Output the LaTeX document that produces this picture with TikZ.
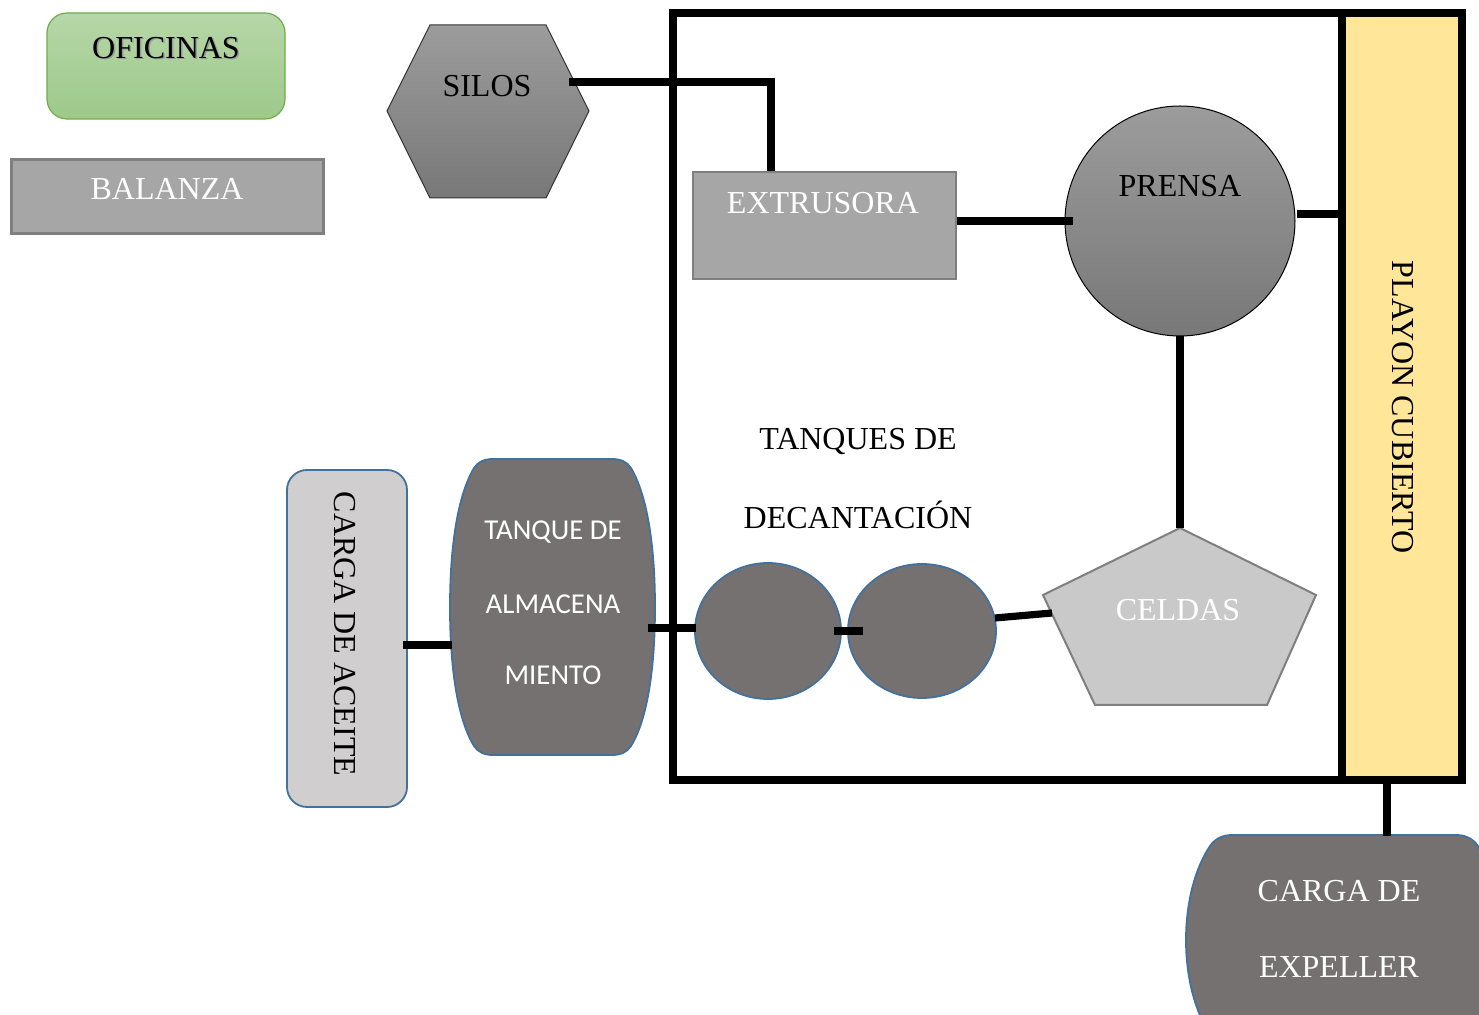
\documentclass[tikz,border=0pt]{standalone}
\usepackage{fontspec}
\setmainfont{Liberation Serif}
\newfontfamily\calib{Carlito}
\usetikzlibrary{calc,shapes.geometric}
\definecolor{tankfill}{HTML}{767171}
\definecolor{tankedge}{HTML}{41719C}
\definecolor{boxgray}{HTML}{A6A6A6}
\definecolor{boxedge}{HTML}{7F7F7F}
\definecolor{celfill}{HTML}{C9C9C9}
\definecolor{ofitop}{HTML}{B6D7A8}
\definecolor{ofibot}{HTML}{9DC98A}
\definecolor{ofiedge}{HTML}{70AD47}
\definecolor{playonfill}{HTML}{FFE699}
\definecolor{cargafill}{HTML}{D0CECE}
\definecolor{graytop}{HTML}{9C9C9C}
\definecolor{graybot}{HTML}{787878}
\begin{document}
\begin{tikzpicture}[x=0.5pt,y=-0.5pt,
  conn/.style={line width=3.6pt},
  txt/.style={font=\fontsize{16pt}{19pt}\selectfont, inner sep=0pt},
  sanstxt/.style={font=\calib\fontsize{14.4pt}{17pt}\selectfont, inner sep=0pt, text=white},
  graybox/.style={draw=boxedge, line width=1pt, fill=boxgray, inner sep=0pt},
  tank/.style={draw=tankedge, line width=0.9pt, fill=tankfill},
  grayshade/.style={top color=graytop, bottom color=graybot}]
\useasboundingbox (0,0) rectangle (1479,1015);
\clip (0,0) rectangle (1479,1015);

% OFICINAS
\node[draw=ofiedge, line width=0.6pt, rounded corners=10pt, top color=ofitop, bottom color=ofibot,
      minimum width=119pt, minimum height=53pt, inner sep=0pt] (ofi) at (166,66) {};
\node[txt, text=black!40] (ofishadow) at (167.5,49.5) {OFICINAS};
\node[txt] (ofitext) at (166,48) {OFICINAS};

% BALANZA
\node[graybox, line width=1.5pt, minimum width=156pt, minimum height=37pt] (bal) at (167.5,196.5) {};
\node[txt, text=white] (baltext) at (167,189) {BALANZA};

% SILOS hexagon
\draw[draw=black!80, line width=0.5pt, grayshade]
  (387,111) -- (430,25) -- (546,25) -- (589,111) -- (546,198) -- (430,198) -- cycle;
\node[txt] (silos) at (487,86) {SILOS};
\coordinate (silosout) at (569,82);

% plant frame
\node[draw=black, line width=4.2pt, minimum width=394.5pt, minimum height=383.5pt, inner sep=0pt] (planta) at (1067.5,396.5) {};
% PLAYON CUBIERTO
\node[draw=black, line width=4.2pt, fill=playonfill, minimum width=60pt, minimum height=383.5pt, inner sep=0pt] (playon) at (1402,396.5) {};
\node[txt, rotate=-90] (playontext) at (1403,407) {PLAYON CUBIERTO};

% EXTRUSORA
\node[graybox, minimum width=131.5pt, minimum height=53.5pt] (extr) at (824.5,225.5) {};
\node[txt, text=white] (extrtext) at (823,203) {EXTRUSORA};

% PRENSA
\node[circle, draw=black, line width=0.5pt, grayshade, minimum size=115pt, inner sep=0pt] (prensa) at (1180,221) {};
\node[txt] (prensatext) at (1180,186) {PRENSA};

% CELDAS pentagon
\draw[draw=boxedge, line width=1pt, fill=celfill]
  (1180,528) -- (1316,595) -- (1267,705) -- (1095,705) -- (1043,595) -- cycle;
\coordinate (celtop) at (1180,528);
\node[txt, text=white] (celdas) at (1178,610) {CELDAS};

% TANQUES DE DECANTACION
\node[txt] (dec1) at (858,442) {TANQUES DE};
\node[txt] (dec2) at (858,515) {DECANTACIÓN};
\node[tank, ellipse, minimum width=73pt, minimum height=68pt, inner sep=0pt] (tk1) at (768,631) {};
\node[tank, ellipse, minimum width=74pt, minimum height=67pt, inner sep=0pt] (tk2) at (922,631) {};

% TANQUE DE ALMACENAMIENTO
\draw[tank] (493,459) -- (612,459)
  .. controls (621,459) and (627,462) .. (631,468)
  .. controls (647,495) and (655,545) .. (655,607)
  .. controls (655,670) and (647,720) .. (631,746)
  .. controls (627,752) and (621,755) .. (612,755)
  -- (493,755)
  .. controls (484,755) and (478,752) .. (474,746)
  .. controls (458,720) and (450,670) .. (450,607)
  .. controls (450,545) and (458,495) .. (474,468)
  .. controls (478,462) and (484,459) .. (493,459) -- cycle;
\node[sanstxt] (alm1) at (553,532) {TANQUE DE};
\node[sanstxt] (alm2) at (553,604) {ALMACENA};
\node[sanstxt] (alm3) at (553,675) {MIENTO};

% CARGA DE ACEITE
\node[draw=tankedge, line width=0.9pt, fill=cargafill, rounded corners=10pt,
      minimum width=60pt, minimum height=168.5pt, inner sep=0pt] (aceite) at (347,638.5) {};
\node[txt, rotate=-90] (aceitetext) at (345,634) {CARGA DE ACEITE};

% CARGA DE EXPELLER
\draw[tank] (1232,835) -- (1456,835)
  .. controls (1466,835) and (1473,839) .. (1478,846)
  .. controls (1494,870) and (1502,905) .. (1502,940)
  .. controls (1502,975) and (1494,1010) .. (1478,1034)
  .. controls (1473,1041) and (1466,1045) .. (1456,1045)
  -- (1232,1045)
  .. controls (1222,1045) and (1215,1041) .. (1210,1034)
  .. controls (1194,1010) and (1186,975) .. (1186,940)
  .. controls (1186,905) and (1194,870) .. (1210,846)
  .. controls (1215,839) and (1222,835) .. (1232,835) -- cycle;
\coordinate (expin) at (1387,836);
\node[txt, text=white] (exp1) at (1339,891) {CARGA DE};
\node[txt, text=white] (exp2) at (1339,967) {EXPELLER};

% connectors
\draw[conn] (silosout) -| ([xshift=-26.75pt]extr.north);
\draw[conn] (extr.east |- prensa.west) -- ([xshift=4pt]prensa.west);
\coordinate (pp) at (1297,214);
\draw[conn] (pp) -- (pp -| playon.west);
\draw[conn] (prensa.south) -- (celtop);
\coordinate (t2out) at (995,618);
\coordinate (celin) at (1052,613);
\draw[conn] (t2out) -- (celin);
\draw[conn] ([xshift=-4pt]tk1.east) -- ([xshift=8pt]tk2.west);
\coordinate (almout) at (648,628);
\draw[conn] (almout) -- ([xshift=1pt]almout -| tk1.west);
\coordinate (acout) at (403,645);
\coordinate (almin) at (452,645);
\draw[conn] (acout) -- (almin);
\draw[conn] (playon.south -| expin) -- (expin);
\end{tikzpicture}
\end{document}
